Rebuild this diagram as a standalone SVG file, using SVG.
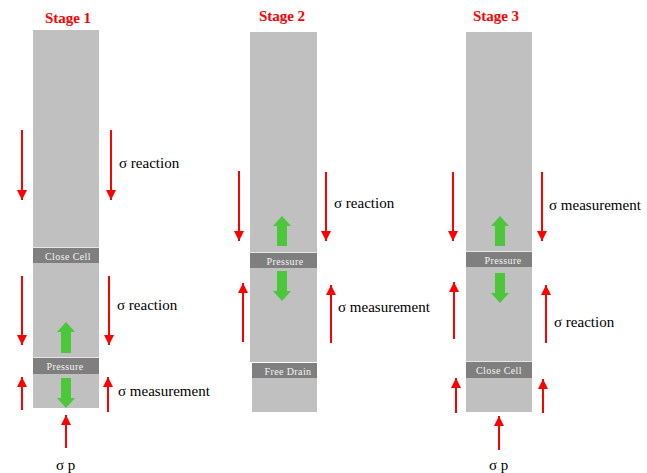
<svg xmlns="http://www.w3.org/2000/svg" width="647" height="473" viewBox="0 0 647 473">
<defs>
<style>
.col{fill:#c0c0c0}
.band{fill:#7f7f7f}
.bt{font-family:"Liberation Serif","Times New Roman",serif;font-size:10px;letter-spacing:0.4px;fill:#f4f4f4;text-anchor:middle}
.title{font-family:"Liberation Serif","Times New Roman",serif;font-size:15px;font-weight:bold;fill:#ff0000;text-anchor:middle}
.lbl{font-family:"Liberation Serif","Times New Roman",serif;font-size:15px;fill:#000}
.r{stroke:#ff0000;stroke-width:2;fill:none}
.sep{stroke:#e6e6e6;stroke-width:1}
.g{fill:#4cc63a}
</style>
<marker id="ah" viewBox="0 0 10 10" refX="10" refY="5" markerWidth="5" markerHeight="5" markerUnits="strokeWidth" orient="auto">
<path d="M0,0 L10,5 L0,10 Z" fill="#ff0000"/>
</marker>
</defs>

<g id="stage1">
<text class="title" x="68" y="23">Stage 1</text>
<rect class="col" x="33" y="30" width="66" height="378"/>
<line class="sep" x1="33" y1="247.5" x2="99" y2="247.5"/>
<line class="sep" x1="33" y1="357.5" x2="99" y2="357.5"/>
<g id="s1-closecell"><rect class="band" x="33" y="248" width="66" height="15"/><text class="bt" x="68" y="259.5">Close Cell</text></g>
<g id="s1-pressure"><rect class="band" x="33" y="358" width="66" height="16"/><text class="bt" x="65" y="370">Pressure</text></g>
<path class="g" d="M61,353 V332 H57 L66,322 L75,332 H71 V353 Z"/>
<path class="g" d="M61,378 V398 H57 L66,408 L75,398 H71 V378 Z"/>
<text class="lbl" x="119" y="168">σ reaction</text>
<text class="lbl" x="117" y="310">σ reaction</text>
<text class="lbl" x="118" y="396">σ measurement</text>
<text class="lbl" x="56" y="470">σ p</text>
</g>

<g id="stage2">
<text class="title" x="282" y="21">Stage 2</text>
<rect class="col" x="250" y="32" width="67" height="330"/>
<line class="sep" x1="250" y1="252.5" x2="317" y2="252.5"/>
<g id="s2-pressure"><rect class="band" x="250" y="253" width="67" height="15"/><text class="bt" x="285" y="264.5">Pressure</text></g>
<rect class="col" x="252" y="363" width="65" height="49"/>
<g id="s2-freedrain"><rect class="band" x="252" y="363" width="65" height="15"/><text class="bt" x="288" y="374.5">Free Drain</text></g>
<path class="g" d="M277,246 V226 H273 L282,216 L291,226 H287 V246 Z"/>
<path class="g" d="M277,271 V291 H273 L282,301 L291,291 H287 V271 Z"/>
<text class="lbl" x="334" y="208">σ reaction</text>
<text class="lbl" x="338" y="312">σ measurement</text>
</g>

<g id="stage3">
<text class="title" x="496" y="21">Stage 3</text>
<rect class="col" x="466" y="32" width="66" height="380"/>
<line class="sep" x1="466" y1="251.5" x2="532" y2="251.5"/>
<line class="sep" x1="466" y1="361.5" x2="532" y2="361.5"/>
<g id="s3-pressure"><rect class="band" x="466" y="252" width="66" height="15"/><text class="bt" x="503" y="263.5">Pressure</text></g>
<g id="s3-closecell"><rect class="band" x="466" y="362" width="66" height="16"/><text class="bt" x="499" y="374">Close Cell</text></g>
<path class="g" d="M495,246 V226 H491 L500,216 L509,226 H505 V246 Z"/>
<path class="g" d="M495,273 V293 H491 L500,303 L509,293 H505 V273 Z"/>
<text class="lbl" x="549" y="210">σ measurement</text>
<text class="lbl" x="554" y="327">σ reaction</text>
<text class="lbl" x="489" y="470">σ p</text>
</g>

<g id="connectors">
<line class="r" x1="22" y1="130" x2="22" y2="200" marker-end="url(#ah)"/>
<line class="r" x1="111" y1="130" x2="111" y2="200" marker-end="url(#ah)"/>
<line class="r" x1="22" y1="276" x2="22" y2="345" marker-end="url(#ah)"/>
<line class="r" x1="109" y1="276" x2="109" y2="345" marker-end="url(#ah)"/>
<line class="r" x1="22" y1="410" x2="22" y2="377" marker-end="url(#ah)"/>
<line class="r" x1="108" y1="412" x2="108" y2="377" marker-end="url(#ah)"/>
<line class="r" x1="66" y1="448" x2="66" y2="415" marker-end="url(#ah)"/>

<line class="r" x1="239" y1="171" x2="239" y2="241" marker-end="url(#ah)"/>
<line class="r" x1="326" y1="172" x2="326" y2="241" marker-end="url(#ah)"/>
<line class="r" x1="243" y1="342" x2="243" y2="283" marker-end="url(#ah)"/>
<line class="r" x1="331" y1="343" x2="331" y2="285" marker-end="url(#ah)"/>

<line class="r" x1="453" y1="172" x2="453" y2="241" marker-end="url(#ah)"/>
<line class="r" x1="542" y1="172" x2="542" y2="241" marker-end="url(#ah)"/>
<line class="r" x1="454" y1="339" x2="454" y2="282" marker-end="url(#ah)"/>
<line class="r" x1="546" y1="343" x2="546" y2="285" marker-end="url(#ah)"/>
<line class="r" x1="456" y1="413" x2="456" y2="378" marker-end="url(#ah)"/>
<line class="r" x1="543" y1="413" x2="543" y2="379" marker-end="url(#ah)"/>
<line class="r" x1="499" y1="450" x2="499" y2="416" marker-end="url(#ah)"/>
</g>
</svg>
